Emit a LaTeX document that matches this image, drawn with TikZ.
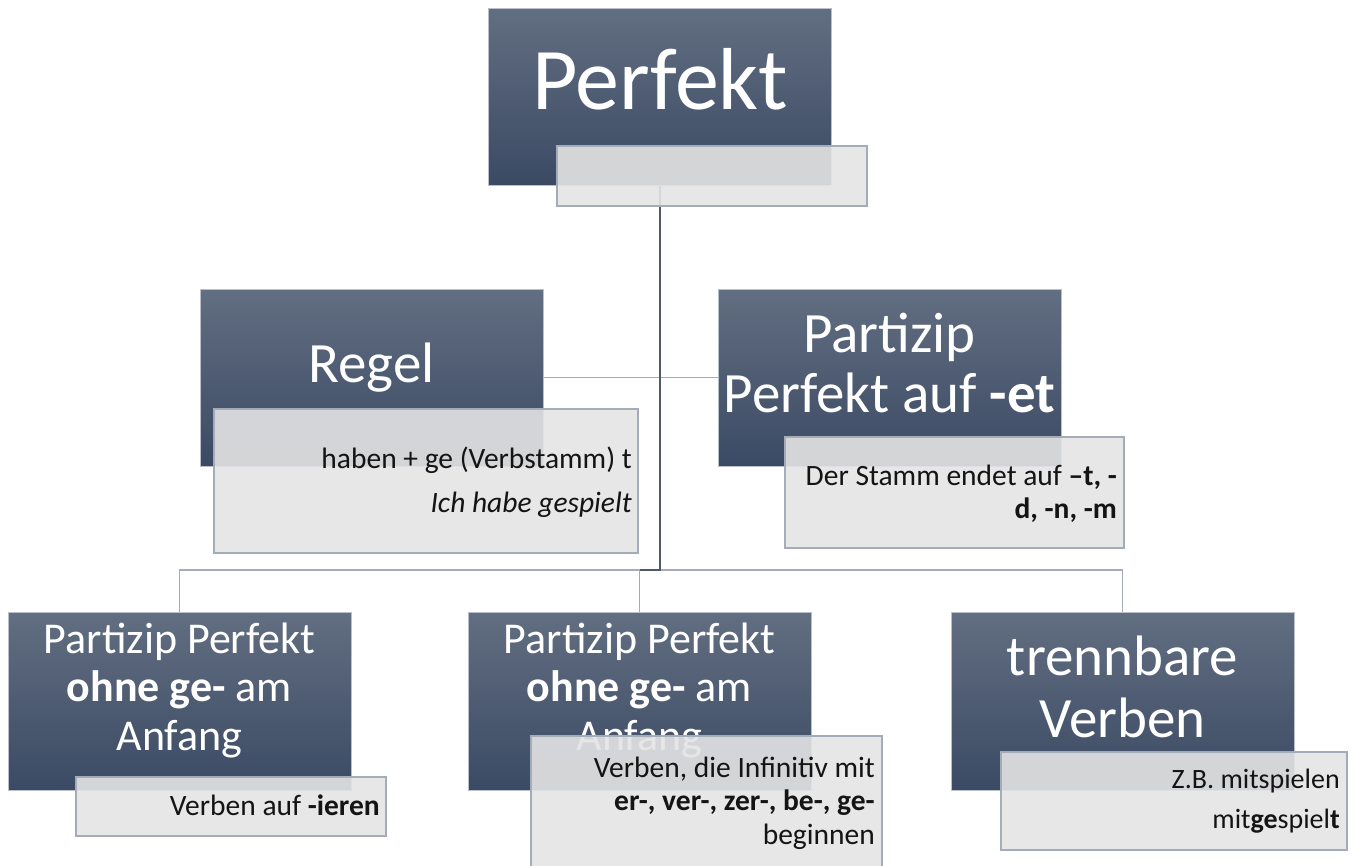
\documentclass[tikz,border=0pt]{standalone}
\usepackage{fontspec}
\setmainfont{Carlito}
\usetikzlibrary{backgrounds}
\definecolor{boxtop}{RGB}{98,110,129}
\definecolor{boxbot}{RGB}{59,74,100}
\definecolor{boxedge}{RGB}{185,192,202}
\definecolor{subfill}{RGB}{228,228,228}
\definecolor{subline}{RGB}{165,172,185}
\definecolor{connc}{RGB}{165,172,185}
\definecolor{mainconn}{RGB}{80,89,105}
\definecolor{darktext}{RGB}{20,20,20}
\newcommand{\mylines}[2]{\begin{tabular}[t]{@{}#1@{}}#2\end{tabular}}
\tikzset{
 darkbox/.style={anchor=north west, draw=boxedge, line width=0.5pt, top color=boxtop, bottom color=boxbot, inner sep=0pt, outer sep=0pt, minimum width=343pt, minimum height=177pt},
 subbox/.style={anchor=north west, draw=subline, line width=1.2pt, fill=subfill, fill opacity=0.9, inner sep=0pt, outer sep=0pt},
 head/.style={text=white, inner sep=0pt, anchor=base},
 note/.style={text=darktext, inner sep=0pt, anchor=base east, font=\fontsize{29.5}{33.6}\selectfont},
 connline/.style={draw=connc, line width=1.3pt},
 mainline/.style={draw=mainconn, line width=1.7pt},
}
\begin{document}
\begin{tikzpicture}[x=1pt,y=-1pt]
\useasboundingbox (0,0) rectangle (1360,865);
% dark boxes
\node[darkbox] (perf) at (488.5,8) {};
\node[darkbox] (regel) at (200,289) {};
\node[darkbox] (partet) at (718,289) {};
\node[darkbox, minimum height=178pt] (b1) at (8,612) {};
\node[darkbox, minimum height=178pt] (b2) at (468,612) {};
\node[darkbox, minimum height=178pt] (b3) at (951,612) {};
% heading texts
\node[head, font=\fontsize{88}{94}\selectfont] (perft) at (660,109) {Perfekt};
\node[head, font=\fontsize{57}{62}\selectfont] (regelt) at (371.5,382) {Regel};
\node[head, font=\fontsize{57}{60}\selectfont] (partett) at (889.5,352) {\mylines{c}{Partizip\\Perfekt auf \textbf{-et}}};
\node[head, font=\fontsize{44}{48.5}\selectfont] (b1t) at (179.5,653) {\mylines{c}{Partizip Perfekt\\\textbf{ohne ge-} am\\Anfang}};
\node[head, font=\fontsize{44}{48.5}\selectfont] (b2t) at (639.5,653) {\mylines{c}{Partizip Perfekt\\\textbf{ohne ge-} am\\Anfang}};
\node[head, font=\fontsize{57}{62}\selectfont] (b3t) at (1122.5,675) {\mylines{c}{trennbare\\Verben}};
% sub boxes
\node[subbox, minimum width=310pt, minimum height=60pt] (perfsub) at (557,146) {};
\node[subbox, minimum width=424pt, minimum height=144pt] (regelsub) at (214,409) {};
\node[subbox, minimum width=339pt, minimum height=111pt] (partetsub) at (785,437) {};
\node[subbox, minimum width=310pt, minimum height=59pt] (b1sub) at (76,777) {};
\node[subbox, minimum width=351pt, minimum height=140pt] (b2sub) at (531,736) {};
\node[subbox, minimum width=346pt, minimum height=98pt] (b3sub) at (1001,752) {};
% notes
\node[note] (regeln) at (632,468) {\mylines{r}{haben + ge (Verbstamm) t\\[10.4pt]\textit{Ich habe gespielt}}};
\node[note] (partetn) at (1117,485) {\mylines{r}{Der Stamm endet auf \textbf{–t, -}\\\textbf{d, -n, -m}}};
\node[note] (b1n) at (380,815) {Verben auf \textbf{-ieren}};
\node[note] (b2n) at (875,777) {\mylines{r}{Verben, die Infinitiv mit\\\textbf{er-, ver-, zer-, be-, ge-}\\beginnen}};
\node[note, font=\fontsize{28}{31}\selectfont] (b3n) at (1340,788) {\mylines{r}{Z.B. mitspielen\\[9pt]mit\textbf{ge}spiel\textbf{t}}};
% connectors
\begin{scope}[on background layer]
\coordinate (hub) at (perf.south |- b1.north);
\draw[connline] (regel.east) -- (partet.west);
\draw[connline] (b1.north) -- ++(0,-42) -| (b3.north);
\draw[connline] (b2.north) -- ++(0,-42);
\draw[mainline] (perf.south) -- ([yshift=42pt]hub) -- ([yshift=42pt]hub -| b2.north);
\end{scope}
\end{tikzpicture}
\end{document}
